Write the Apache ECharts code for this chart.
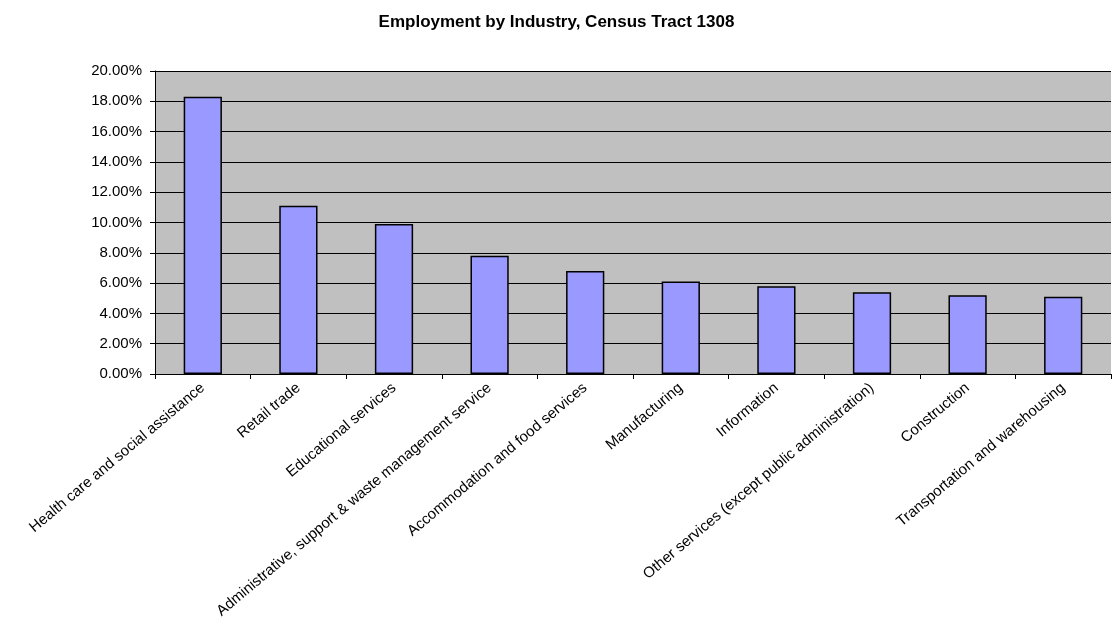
<!DOCTYPE html>
<html>
<head>
<meta charset="utf-8">
<script src="https://cdn.jsdelivr.net/npm/echarts@6/dist/echarts.min.js"></script>
<style>
  html, body { margin: 0; padding: 0; background: #fff; }
  #chart { width: 1113px; height: 637px; }
</style>
</head>
<body>
<div id="chart"></div>
<script>
const industries = [
  "Health care and social assistance",
  "Retail trade",
  "Educational services",
  "Administrative, support & waste management service",
  "Accommodation and food services",
  "Manufacturing",
  "Information",
  "Other services (except public administration)",
  "Construction",
  "Transportation and warehousing"
];
const shares = [0.183, 0.111, 0.099, 0.078, 0.068, 0.061, 0.058, 0.054, 0.052, 0.051];
const yMin = 0;
const yMax = 0.2;
const yStep = 0.02;

const chart = echarts.init(document.getElementById("chart"));
chart.setOption({
  animation: false,
  title: {
    text: "Employment by Industry, Census Tract 1308",
    left: "center",
    top: 9,
    textStyle: { fontFamily: "Liberation Sans", fontSize: 17, fontWeight: "bold", color: "#000" }
  },
  grid: { left: 155, right: 2, top: 71, bottom: 263, backgroundColor: "#c0c0c0", show: true, borderWidth: 0 },
  xAxis: {
    type: "category",
    data: industries,
    axisLine: { lineStyle: { color: "#000", width: 1 } },
    axisTick: { show: true, length: 5, lineStyle: { color: "#000" } },
    axisLabel: {
      rotate: 40,
      interval: 0,
      margin: 12,
      fontFamily: "Liberation Sans",
      fontSize: 15,
      color: "#000"
    }
  },
  yAxis: {
    type: "value",
    min: yMin,
    max: yMax,
    interval: yStep,
    axisLine: { show: true, lineStyle: { color: "#000", width: 1 } },
    axisTick: { show: true, length: 5, lineStyle: { color: "#000" } },
    splitLine: { lineStyle: { color: "#000", width: 1 } },
    axisLabel: {
      margin: 13,
      fontFamily: "Liberation Sans",
      fontSize: 15,
      color: "#000",
      formatter: (v) => (v * 100).toFixed(2) + "%"
    }
  },
  series: [
    {
      type: "bar",
      data: shares,
      barCategoryGap: "60%",
      itemStyle: { color: "#9999ff", borderColor: "#000", borderWidth: 1.5 }
    }
  ]
});
</script>
</body>
</html>
